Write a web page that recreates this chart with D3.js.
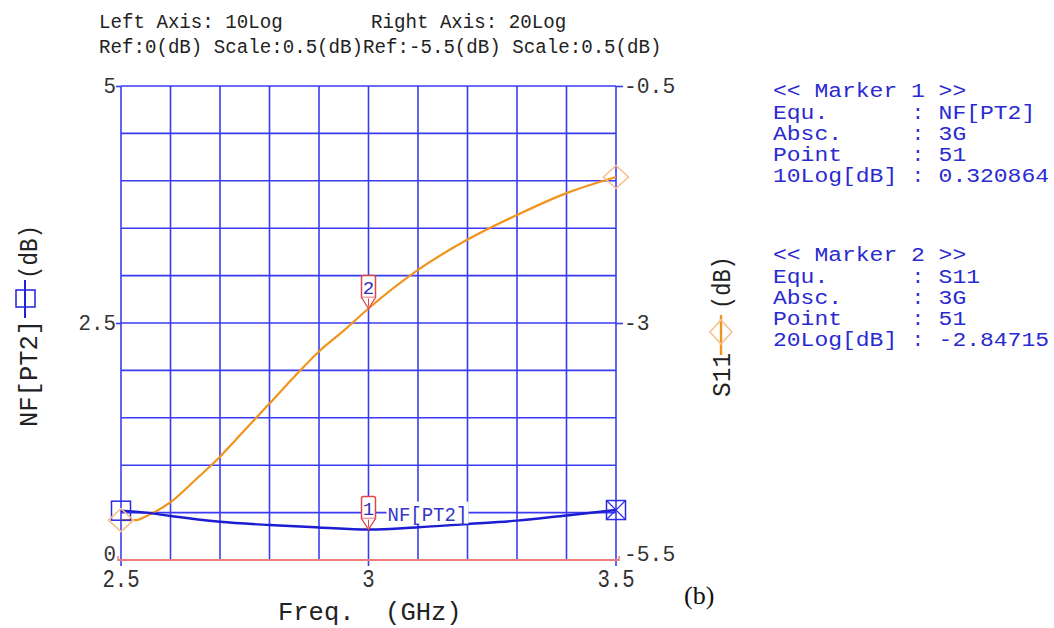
<!DOCTYPE html>
<html>
<head>
<meta charset="utf-8">
<script src="https://cdn.jsdelivr.net/npm/d3@7"></script>
<style>
  html, body { margin: 0; padding: 0; background: #fff; }
  svg { display: block; }
</style>
</head>
<body>
<svg id="chart" width="1054" height="628"></svg>
<script>
// ---------------- data ----------------
const nfFreq = [2.5, 2.55, 2.6, 2.7, 2.8, 2.9, 3.0, 3.1, 3.2, 3.3, 3.4, 3.5];
const nfValues = [0.52, 0.50, 0.464, 0.404, 0.369, 0.343, 0.321, 0.345, 0.38, 0.415, 0.47, 0.527];
const s11Freq = [2.5, 2.53, 2.55, 2.6, 2.65, 2.7, 2.75, 2.8, 2.85, 2.9, 2.95, 3.0, 3.1, 3.2, 3.3, 3.4, 3.5];
const s11Values = [-5.08, -5.08, -5.04, -4.89, -4.656, -4.41, -4.13, -3.85, -3.567, -3.30, -3.08, -2.847, -2.44, -2.12, -1.86, -1.63, -1.46];
const xTicks = [2.5, 3, 3.5];
const xTickLabels = ["2.5", "3", "3.5"];
const leftTicks = [0, 2.5, 5];
const leftTickLabels = ["0", "2.5", "5"];
const rightTicks = [-5.5, -3, -0.5];
const rightTickLabels = ["-5.5", "-3", "-0.5"];
const headerLine1a = "Left Axis: 10Log";
const headerLine1b = "Right Axis: 20Log";
const headerLine2 = "Ref:0(dB) Scale:0.5(dB)Ref:-5.5(dB) Scale:0.5(dB)";
const marker1Rows = [["Equ.", "NF[PT2]"], ["Absc.", "3G"], ["Point", "51"], ["10Log[dB]", "0.320864"]];
const marker2Rows = [["Equ.", "S11"], ["Absc.", "3G"], ["Point", "51"], ["20Log[dB]", "-2.84715"]];
const markers = [
  { id: "1", series: "nf", freq: 3.0, value: 0.320864 },
  { id: "2", series: "s11", freq: 3.0, value: -2.84715 }
];

// ---------------- setup ----------------
const MONO = "'Liberation Mono', 'DejaVu Sans Mono', monospace";
const svg = d3.select("#chart");
const L = 121, R = 616, T = 86, B = 560;
const x = d3.scaleLinear().domain([2.5, 3.5]).range([L, R]);
const yL = d3.scaleLinear().domain([0, 5]).range([B, T]);
const yR = d3.scaleLinear().domain([-5.5, -0.5]).range([B, T]);

const GRID = "#3b3bf2";
const NFC = "#1c1cd2";
const ORANGE = "#f0941c";
const LIGHTOR = "#f6c190";
const RED = "#ee7c7c";
const TXT = "#333";
const BLUETXT = "#2a2ad0";

function fitText(sel, cw) {
  sel.each(function () {
    const t = d3.select(this);
    const n = t.text().length;
    t.attr("textLength", n * cw).attr("lengthAdjust", "spacingAndGlyphs");
  });
  return sel;
}

// ---------------- header ----------------
const hdr = svg.append("g").attr("font-family", MONO).attr("font-size", 20).attr("fill", "#222");
fitText(hdr.append("text").attr("x", 99).attr("y", 28).text(headerLine1a), 11.48);
fitText(hdr.append("text").attr("x", 371).attr("y", 28).text(headerLine1b), 11.48);
fitText(hdr.append("text").attr("x", 99).attr("y", 53).text(headerLine2), 11.48);

// ---------------- grid ----------------
const g = svg.append("g");
const vGrid = d3.range(0, 11).map(i => 2.5 + i * 0.1);
const hGrid = d3.range(1, 11).map(i => i * 0.5);
g.selectAll("line.vg").data(vGrid).join("line")
  .attr("x1", d => x(d)).attr("x2", d => x(d))
  .attr("y1", T).attr("y2", d => (Math.abs(d - 2.5) < 1e-6 || Math.abs(d - 3) < 1e-6 || Math.abs(d - 3.5) < 1e-6) ? B + 6 : B)
  .attr("stroke", GRID).attr("stroke-width", 1.6);
g.selectAll("line.hg").data(hGrid).join("line")
  .attr("x1", L).attr("x2", R)
  .attr("y1", d => yL(d)).attr("y2", d => yL(d))
  .attr("stroke", GRID).attr("stroke-width", 1.6);
// baseline (red)
g.append("line").attr("x1", L - 3).attr("x2", R + 3).attr("y1", B).attr("y2", B)
  .attr("stroke", RED).attr("stroke-width", 2);
g.append("line").attr("x1", L - 3).attr("x2", L - 3).attr("y1", B - 4).attr("y2", B + 1).attr("stroke", RED).attr("stroke-width", 1.5);
g.append("line").attr("x1", R + 3).attr("x2", R + 3).attr("y1", B - 4).attr("y2", B + 1).attr("stroke", RED).attr("stroke-width", 1.5);

// ---------------- axes ----------------
const leftAxis = d3.axisLeft(yL).tickValues(leftTicks.filter(d => d > 0)).tickSize(5).tickFormat("");
const la = svg.append("g").attr("transform", `translate(${L},0)`).call(leftAxis);
la.select(".domain").remove();
la.selectAll(".tick line").attr("stroke", GRID).attr("stroke-width", 1.6);

const rightAxis = d3.axisRight(yR).tickValues(rightTicks.filter(d => d > -5.5)).tickSize(7).tickFormat("");
const ra = svg.append("g").attr("transform", `translate(${R},0)`).call(rightAxis);
ra.select(".domain").remove();
ra.selectAll(".tick line").attr("stroke", GRID).attr("stroke-width", 1.6);

// tick labels
const tl = svg.append("g").attr("font-family", MONO).attr("fill", TXT);
leftTicks.forEach((v, i) => {
  const yy = v === 0 ? B + 1 : yL(v) + 7;
  const t = tl.append("text").attr("x", 116).attr("y", yy).attr("text-anchor", "end")
    .attr("font-size", 22).text(leftTickLabels[i]);
  fitText(t, 12.5);
});
rightTicks.forEach((v, i) => {
  const yy = v === -5.5 ? B + 1 : yR(v) + 7;
  const t = tl.append("text").attr("x", 624).attr("y", yy)
    .attr("font-size", 22).text(rightTickLabels[i]);
  fitText(t, 12.8);
});
xTicks.forEach((v, i) => {
  const t = tl.append("text").attr("x", x(v)).attr("y", 587).attr("text-anchor", "middle")
    .attr("font-size", 25).text(xTickLabels[i]);
  fitText(t, 12.4);
});

// axis titles
const xt = svg.append("text").attr("x", 278).attr("y", 620)
  .attr("font-family", MONO).attr("font-size", 26).attr("fill", "#222")
  .style("white-space", "pre").text("Freq.  (GHz)");
fitText(xt, 15.3);

// left title (rotated)
const lt = svg.append("g").attr("transform", "translate(37,427) rotate(-90)");
fitText(lt.append("text").attr("x", 0).attr("y", 0).attr("font-family", MONO).attr("font-size", 26)
  .attr("fill", "#222").text("NF[PT2]"), 15.3);
lt.append("line").attr("x1", 109).attr("x2", 147).attr("y1", -12).attr("y2", -12)
  .attr("stroke", "#2020e0").attr("stroke-width", 2);
lt.append("rect").attr("x", 120).attr("y", -21).attr("width", 17).attr("height", 19)
  .attr("fill", "none").attr("stroke", "#2020e0").attr("stroke-width", 1.5);
fitText(lt.append("text").attr("x", 148).attr("y", 0).attr("font-family", MONO).attr("font-size", 26)
  .attr("fill", "#222").text("(dB)"), 13.5);

// right title (rotated)
const rt = svg.append("g").attr("transform", "translate(730,397) rotate(-90)");
fitText(rt.append("text").attr("x", 0).attr("y", 0).attr("font-family", MONO).attr("font-size", 26)
  .attr("fill", "#222").text("S11"), 14.7);
rt.append("line").attr("x1", 42).attr("x2", 82).attr("y1", -9).attr("y2", -9)
  .attr("stroke", ORANGE).attr("stroke-width", 2.4);
rt.append("path").attr("d", "M53,-9 L65,-20 L77,-9 L65,2 Z")
  .attr("fill", "none").attr("stroke", LIGHTOR).attr("stroke-width", 1.6);
fitText(rt.append("text").attr("x", 88).attr("y", 0).attr("font-family", MONO).attr("font-size", 26)
  .attr("fill", "#222").text("(dB)"), 13.2);

// ---------------- curves ----------------
const nfLine = d3.line().x((d, i) => x(nfFreq[i])).y(d => yL(d)).curve(d3.curveMonotoneX);
const s11Line = d3.line().x((d, i) => x(s11Freq[i])).y(d => yR(d)).curve(d3.curveMonotoneX);

svg.append("path").datum(s11Values).attr("d", s11Line)
  .attr("fill", "none").attr("stroke", ORANGE).attr("stroke-width", 2.2);
svg.append("path").datum(nfValues).attr("d", nfLine)
  .attr("fill", "none").attr("stroke", NFC).attr("stroke-width", 2.4);

// end symbols
const nfS = { x: x(nfFreq[0]), y: yL(nfValues[0]) };
const nfE = { x: x(nfFreq[nfFreq.length - 1]), y: yL(nfValues[nfValues.length - 1]) };
svg.append("rect").attr("x", nfS.x - 9.5).attr("y", nfS.y - 9.5).attr("width", 19).attr("height", 19)
  .attr("fill", "none").attr("stroke", "#2a2ae0").attr("stroke-width", 1.5);
svg.append("rect").attr("x", nfE.x - 9.5).attr("y", nfE.y - 9.5).attr("width", 19).attr("height", 19)
  .attr("fill", "none").attr("stroke", "#2a2ae0").attr("stroke-width", 1.5);
svg.append("path").attr("d", `M${nfE.x - 9.5},${nfE.y - 9.5} L${nfE.x + 9.5},${nfE.y + 9.5} M${nfE.x + 9.5},${nfE.y - 9.5} L${nfE.x - 9.5},${nfE.y + 9.5}`)
  .attr("stroke", "#2a2ae0").attr("stroke-width", 1.2);

const s11S = { x: x(s11Freq[0]), y: yR(s11Values[0]) };
const s11E = { x: x(s11Freq[s11Freq.length - 1]), y: yR(s11Values[s11Values.length - 1]) };
[s11S, s11E].forEach(p => {
  svg.append("path").attr("d", `M${p.x - 12.5},${p.y} L${p.x},${p.y - 11.5} L${p.x + 12.5},${p.y} L${p.x},${p.y + 11.5} Z`)
    .attr("fill", "none").attr("stroke", LIGHTOR).attr("stroke-width", 1.6);
});

// ---------------- marker flags ----------------
markers.forEach(m => {
  const px = x(m.freq);
  const py = m.series === "nf" ? yL(m.value) : yR(m.value);
  const mg = svg.append("g");
  mg.append("path")
    .attr("d", `M${px - 7},${py - 11} L${px - 7},${py - 31} Q${px - 7},${py - 33} ${px - 5},${py - 33} L${px + 5},${py - 33} Q${px + 7},${py - 33} ${px + 7},${py - 31} L${px + 7},${py - 11} Z`)
    .attr("fill", "#fff").attr("stroke", "#e04848").attr("stroke-width", 1.5);
  mg.append("path")
    .attr("d", `M${px - 7},${py - 11} L${px},${py} L${px + 7},${py - 11}`)
    .attr("fill", "#fff").attr("stroke", "#e04848").attr("stroke-width", 1.3);
  mg.append("line").attr("x1", px).attr("x2", px).attr("y1", py - 10).attr("y2", py - 2)
    .attr("stroke", "#e04848").attr("stroke-width", 1);
  mg.append("text").attr("x", px).attr("y", py - 15).attr("text-anchor", "middle")
    .attr("font-family", MONO).attr("font-size", 19).attr("fill", "#3030b8").text(m.id);
});

// series label on plot
const m1x = x(markers[0].freq);
svg.append("rect").attr("x", m1x + 18).attr("y", yL(0.5) - 11).attr("width", 82).attr("height", 22).attr("fill", "#fff");
fitText(svg.append("text").attr("x", m1x + 19).attr("y", yL(0.5) + 8)
  .attr("font-family", MONO).attr("font-size", 20).attr("fill", "#3535c8").text("NF[PT2]"), 11.4);

// ---------------- marker panel ----------------
const CW = 13.8, PX = 773;
const panel = svg.append("g").attr("font-family", MONO).attr("font-size", 19.5).attr("fill", BLUETXT);
function block(title, rows, y0) {
  fitText(panel.append("text").attr("x", PX).attr("y", y0).style("white-space", "pre").text(title), CW);
  rows.forEach((r, i) => {
    const yy = y0 + 22 + i * 20.9;
    fitText(panel.append("text").attr("x", PX).attr("y", yy).text(r[0]), CW);
    panel.append("text").attr("x", PX + 10 * CW + CW / 2).attr("y", yy).attr("text-anchor", "middle").text(":");
    fitText(panel.append("text").attr("x", PX + 12 * CW).attr("y", yy).text(r[1]), CW);
  });
}
block("<< Marker 1 >>", marker1Rows, 97);
block("<< Marker 2 >>", marker2Rows, 261);

// (b)
svg.append("text").attr("x", 684).attr("y", 604).attr("font-family", "'Liberation Serif', serif")
  .attr("font-size", 26).attr("fill", "#111").text("(b)");
</script>
</body>
</html>
